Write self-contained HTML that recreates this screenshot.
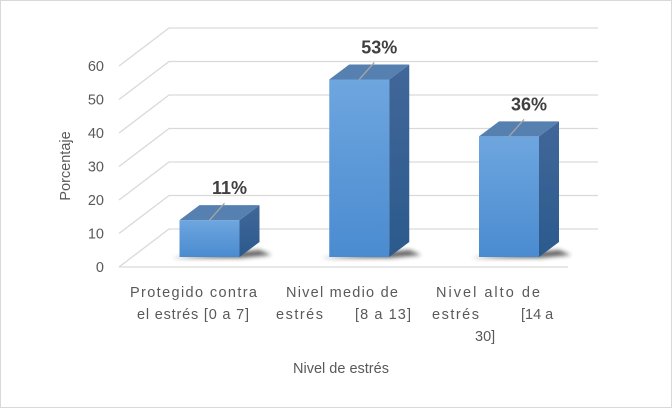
<!DOCTYPE html>
<html><head><meta charset="utf-8">
<style>
html,body{margin:0;padding:0;background:#fff;}
svg{display:block;font-family:"Liberation Sans",sans-serif;}
</style></head>
<body>
<svg id="chart" width="672" height="408" viewBox="0 0 672 408" xmlns="http://www.w3.org/2000/svg">
<defs>
<linearGradient id="front" x1="0" y1="0" x2="0" y2="1">
<stop offset="0" stop-color="#6ea6df"/><stop offset="1" stop-color="#4a8bd0"/></linearGradient>
<linearGradient id="side" x1="0" y1="0" x2="0" y2="1">
<stop offset="0" stop-color="#42679a"/><stop offset="1" stop-color="#2b5a8c"/></linearGradient>
<filter id="blur" x="-20%" y="-50%" width="140%" height="200%"><feGaussianBlur stdDeviation="2"/></filter>
</defs>
<rect x="0.5" y="0.5" width="671" height="407" fill="#fff" stroke="#d9d9d9"/>
<g id="grid"></g>
<g id="yticks"></g>
<g id="bars"></g>
<g fill="#595959" font-size="14.5">
<text><tspan x="130" y="297" textLength="127">Protegido contra</tspan><tspan x="137" y="319" textLength="112">el estrés [0 a 7]</tspan></text>
<text><tspan x="286" y="297" textLength="112">Nivel medio de</tspan><tspan x="276" y="319" textLength="47">estrés</tspan><tspan x="355" y="319" textLength="56">[8 a 13]</tspan></text>
<text><tspan x="436" y="297" textLength="104">Nivel alto de</tspan><tspan x="432" y="319" textLength="47">estrés</tspan><tspan x="521" y="319">[14 a</tspan><tspan x="475" y="341">30]</tspan></text>
</g>
<text x="341" y="373" text-anchor="middle" fill="#595959" font-size="14.5">Nivel de estrés</text>
<text transform="translate(70,166) rotate(-90)" text-anchor="middle" fill="#595959" font-size="14.5">Porcentaje</text>
</svg>
<script>
const categories = ["Protegido contra el estrés [0 a 7]", "Nivel medio de estrés [8 a 13]", "Nivel alto de estrés [14 a 30]"];
const values = [11, 53, 36];
const valueLabels = ["11%", "53%", "36%"];
const yTicks = [0, 10, 20, 30, 40, 50, 60];

const NS = "http://www.w3.org/2000/svg";
const frontY0 = 267, unit = 3.35, backDX = 50, backDY = -38;
const fx0 = 119, fx1 = 568;
const barBase = 257, barW = 60, depthX = 20, depthY = -15;
function yFront(v){ return frontY0 - v*unit; }
function yBar(v){ return barBase - v*unit; }
function xCenter(i){ return 209.5 + i*149.75; }
function mk(tag, attrs, parent){ const e=document.createElementNS(NS,tag); for(const k in attrs) e.setAttribute(k,attrs[k]); parent.appendChild(e); return e; }

const grid = document.getElementById('grid');
const yt = document.getElementById('yticks');
yTicks.forEach(t=>{
  const y = yFront(t);
  const d = mk('path',{d:`M${fx0},${y} L${fx0+backDX},${y+backDY} L${fx1+30},${y+backDY}`,fill:'none',stroke:'#d9d9d9','stroke-width':1.3},grid);
  
  
  const tx = mk('text',{x:104,y:y+5,'text-anchor':'end',fill:'#595959','font-size':'14.5'},yt);
  tx.textContent = t;
  
  
});
const floor = mk('line',{x1:fx0,y1:frontY0,x2:fx1,y2:frontY0,stroke:'#d9d9d9','stroke-width':1.3},grid);



const bars = document.getElementById('bars');
values.forEach((v,i)=>{
  const g = mk('g',{},bars);
  
  
  const x0 = xCenter(i)-barW/2, x1 = x0+barW, yt2 = yBar(v), yb = barBase;
  mk('polygon',{points:`${x0-8},${yb+1} ${x1},${yb+1} ${x1+depthX+12},${yb+depthY+13} ${x1+depthX},${yb+depthY+8}`,fill:'#222',opacity:0.7,filter:'url(#blur)'},g);
  mk('rect',{x:x0,y:yt2,width:barW,height:yb-yt2,fill:'url(#front)'},g);
  mk('polygon',{points:`${x1},${yt2} ${x1+depthX},${yt2+depthY} ${x1+depthX},${yb+depthY} ${x1},${yb}`,fill:'url(#side)'},g);
  mk('polygon',{points:`${x0},${yt2} ${x0+depthX},${yt2+depthY} ${x1+depthX},${yt2+depthY} ${x1},${yt2}`,fill:'#5680b0'},g);
  mk('line',{x1:xCenter(i),y1:yt2,x2:xCenter(i)+15,y2:yt2-17,stroke:'#a6a6a6','stroke-width':1.3},g);
  const lb = mk('text',{x:xCenter(i)+20,y:yt2-26,'text-anchor':'middle',fill:'#404040','font-size':'18','font-weight':'bold'},g);
  lb.textContent = valueLabels[i];
  
  
});
</script>
</body></html>
